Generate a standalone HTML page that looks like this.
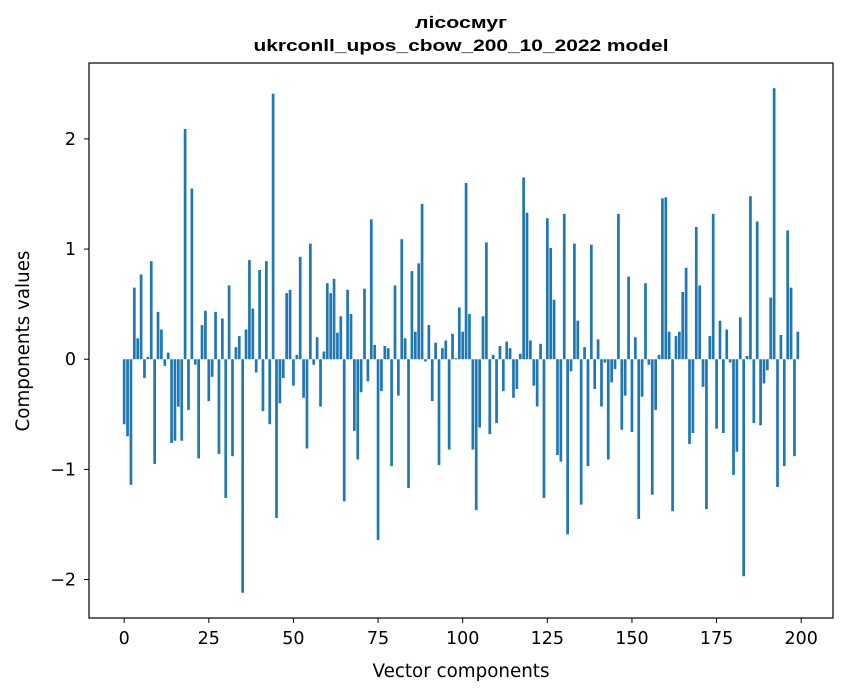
<!DOCTYPE html>
<html><head><meta charset="utf-8"><style>
body{margin:0;background:#fff;}
svg{display:block;font-family:"DejaVu Sans","Liberation Sans",sans-serif;}
</style></head><body>
<svg id="chart" width="847" height="696" viewBox="0 0 847 696">
<rect x="0" y="0" width="847" height="696" fill="#fff"/>
<text x="461" y="28" text-anchor="middle" font-size="17" font-weight="bold" font-family="Liberation Sans, sans-serif" textLength="92" lengthAdjust="spacingAndGlyphs">лісосмуг</text>
<text x="461" y="51" text-anchor="middle" font-size="17" font-weight="bold" font-family="Liberation Sans, sans-serif" textLength="415" lengthAdjust="spacingAndGlyphs">ukrconll_upos_cbow_200_10_2022 model</text>
<g id="bars"></g>
<g id="xticks"></g>
<g id="yticks"></g>
<rect x="89" y="63" width="744" height="555" fill="none" stroke="#000" stroke-width="1.2"/>
<text x="461" y="677" text-anchor="middle" font-size="18.3">Vector components</text>
<text x="0" y="0" transform="translate(29,341) rotate(-90)" text-anchor="middle" font-size="18.3">Components values</text>
</svg>
<script>
const values = [-0.59,-0.70,-1.14,0.65,0.19,0.77,-0.17,0.02,0.89,-0.95,
0.43,0.27,-0.06,0.06,-0.76,-0.74,-0.43,-0.74,2.09,-0.46,
1.55,-0.05,-0.90,0.31,0.44,-0.38,-0.16,0.43,-0.86,0.37,
-1.26,0.67,-0.88,0.11,0.21,-2.12,0.27,0.90,0.46,-0.12,
0.81,-0.47,0.89,-0.59,2.41,-1.44,-0.40,-0.17,0.60,0.63,
-0.24,0.04,0.93,-0.35,-0.81,1.05,-0.05,0.20,-0.43,0.07,
0.69,0.60,0.73,0.24,0.39,-1.29,0.63,0.41,-0.65,-0.91,
-0.30,0.64,-0.20,1.27,0.13,-1.64,-0.29,0.12,0.10,-0.97,
0.67,-0.33,1.09,0.19,-1.17,0.80,0.25,0.87,1.41,-0.02,
0.31,-0.38,0.15,-0.96,0.10,0.17,-0.82,0.23,0.01,0.47,
0.25,1.60,0.41,-0.82,-1.37,-0.62,0.39,1.06,-0.68,0.04,
-0.58,0.12,-0.29,0.16,0.10,-0.35,-0.27,0.05,1.65,1.33,
0.17,-0.24,-0.43,0.14,-1.26,1.28,1.01,0.54,-0.87,-0.93,
1.32,-1.59,-0.11,1.05,0.35,-1.32,0.11,-0.97,1.04,-0.27,
0.18,-0.43,-0.03,-0.91,-0.21,-0.09,1.32,-0.64,-0.33,0.75,
-0.66,0.20,-1.45,-0.34,0.69,-0.05,-1.23,-0.46,0.04,1.46,
1.47,0.25,-1.38,0.21,0.25,0.61,0.83,-0.77,-0.67,1.20,
0.67,-0.25,-1.36,0.21,1.32,-0.63,0.35,-0.67,0.27,-0.03,
-1.05,-0.84,0.38,-1.97,0.03,1.48,-0.58,1.25,-0.60,-0.22,
-0.10,0.56,2.46,-1.16,0.22,-0.97,1.17,0.65,-0.88,0.25];
const xTickLabels = ["0","25","50","75","100","125","150","175","200"];
const yTickLabels = ["−2","−1","0","1","2"];
const xTickValues = [0,25,50,75,100,125,150,175,200];
const yTickValues = [-2,-1,0,1,2];

const NS = "http://www.w3.org/2000/svg";
const L = 89, R = 833, T = 63, B = 618;
const n = values.length;
const xmin0 = -0.4, xmax0 = n - 1 + 0.4, xm = (xmax0 - xmin0) * 0.05;
const xlo = xmin0 - xm, xhi = xmax0 + xm;
const vmin = Math.min(0, ...values), vmax = Math.max(0, ...values), ym = (vmax - vmin) * 0.05;
const ylo = vmin - ym, yhi = vmax + ym;
function xs(v){ return L + (v - xlo) / (xhi - xlo) * (R - L); }
function ys(v){ return B - (v - ylo) / (yhi - ylo) * (B - T); }

const gb = document.getElementById('bars');
values.forEach((v, i) => {
  const r = document.createElementNS(NS, 'rect');
  const x0 = xs(i - 0.4), x1 = xs(i + 0.4);
  const y0 = ys(Math.max(v, 0)), y1 = ys(Math.min(v, 0));
  r.setAttribute('x', x0);
  r.setAttribute('width', x1 - x0);
  r.setAttribute('y', y0);
  r.setAttribute('height', Math.max(y1 - y0, 0));
  r.setAttribute('fill', '#1f77b4');
  
  
  gb.appendChild(r);
});

const gx = document.getElementById('xticks');
xTickValues.forEach((t, k) => {
  const x = xs(t);
  const ln = document.createElementNS(NS, 'line');
  ln.setAttribute('x1', x); ln.setAttribute('x2', x);
  ln.setAttribute('y1', B); ln.setAttribute('y2', B + 5);
  ln.setAttribute('stroke', '#000');
  
  
  gx.appendChild(ln);
  const tx = document.createElementNS(NS, 'text');
  tx.setAttribute('x', x); tx.setAttribute('y', B + 26);
  tx.setAttribute('text-anchor', 'middle');
  tx.setAttribute('font-size', '17.5');
  tx.textContent = xTickLabels[k];
  
  
  gx.appendChild(tx);
});

const gy = document.getElementById('yticks');
yTickValues.forEach((t, k) => {
  const y = ys(t);
  const ln = document.createElementNS(NS, 'line');
  ln.setAttribute('x1', L - 5); ln.setAttribute('x2', L);
  ln.setAttribute('y1', y); ln.setAttribute('y2', y);
  ln.setAttribute('stroke', '#000');
  
  
  gy.appendChild(ln);
  const tx = document.createElementNS(NS, 'text');
  tx.setAttribute('x', L - 13); tx.setAttribute('y', y + 6);
  tx.setAttribute('text-anchor', 'end');
  tx.setAttribute('font-size', '17.5');
  tx.textContent = yTickLabels[k];
  
  
  gy.appendChild(tx);
});
</script>
</body></html>
